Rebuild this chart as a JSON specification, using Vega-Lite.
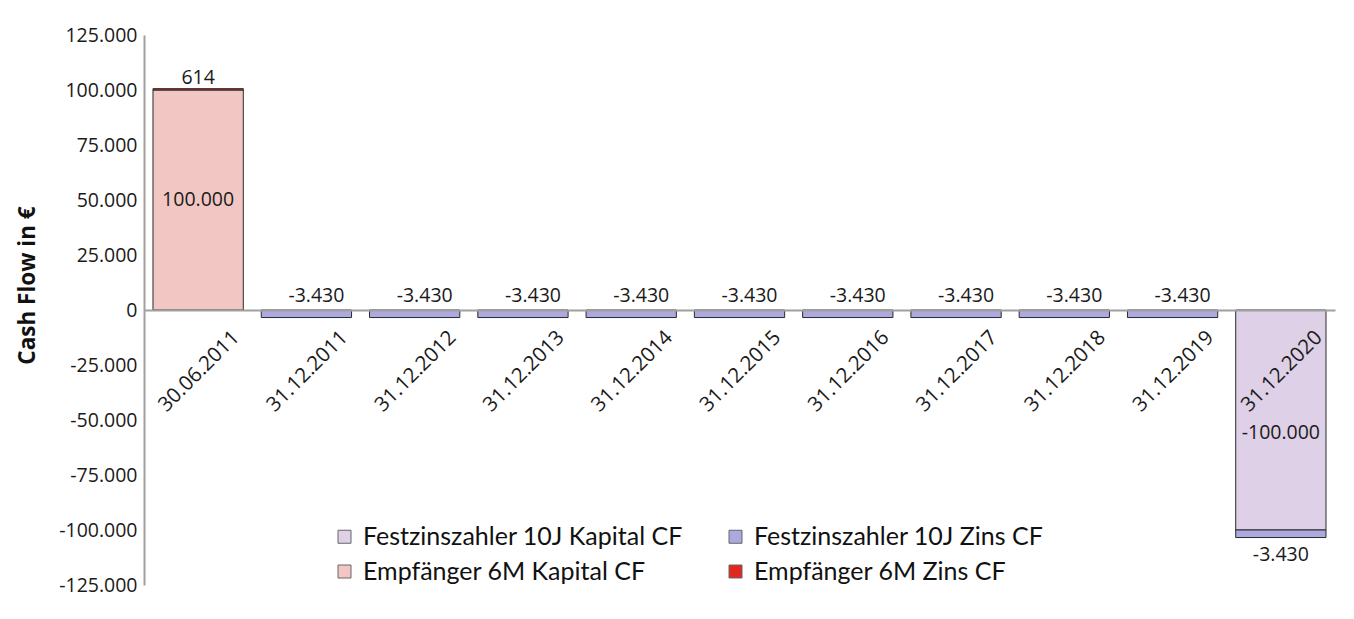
{
  "$schema": "https://vega.github.io/schema/vega-lite/v6.json",
  "width": 1191,
  "height": 550,
  "autosize": "none",
  "padding": {"left": 144, "top": 35, "right": 19, "bottom": 34},
  "background": "white",
  "config": {
    "locale": {"number": {"decimal": ",", "thousands": ".", "grouping": [3], "currency": ["", " €"], "minus": "-"}},
    "view": {"stroke": null},
    "font": "Open Sans"
  },
  "data": {
    "values": [
      {"date": "30.06.2011", "series": "Empfänger 6M Kapital CF", "value": 100000},
      {"date": "30.06.2011", "series": "Empfänger 6M Zins CF", "value": 614},
      {"date": "31.12.2011", "series": "Festzinszahler 10J Zins CF", "value": -3430},
      {"date": "31.12.2012", "series": "Festzinszahler 10J Zins CF", "value": -3430},
      {"date": "31.12.2013", "series": "Festzinszahler 10J Zins CF", "value": -3430},
      {"date": "31.12.2014", "series": "Festzinszahler 10J Zins CF", "value": -3430},
      {"date": "31.12.2015", "series": "Festzinszahler 10J Zins CF", "value": -3430},
      {"date": "31.12.2016", "series": "Festzinszahler 10J Zins CF", "value": -3430},
      {"date": "31.12.2017", "series": "Festzinszahler 10J Zins CF", "value": -3430},
      {"date": "31.12.2018", "series": "Festzinszahler 10J Zins CF", "value": -3430},
      {"date": "31.12.2019", "series": "Festzinszahler 10J Zins CF", "value": -3430},
      {"date": "31.12.2020", "series": "Festzinszahler 10J Kapital CF", "value": -100000},
      {"date": "31.12.2020", "series": "Festzinszahler 10J Zins CF", "value": -3430}
    ]
  },
  "transform": [
    {"stack": "value", "groupby": ["date"], "sort": [{"field": "series", "order": "ascending"}], "as": ["y0", "y1"]}
  ],
  "resolve": {"scale": {"y": "independent"}},
  "layer": [
    {
      "mark": {"type": "bar", "stroke": "#2a2a2a", "strokeWidth": 1},
      "encoding": {
        "x": {
          "field": "date", "type": "nominal", "sort": null,
          "scale": {"paddingInner": 0.166, "paddingOuter": 0.083},
          "axis": {
            "title": null, "orient": "bottom", "offset": -275, "labelAngle": -45,
            "ticks": false, "domainColor": "#a0a0a0", "domainWidth": 2,
            "labelFontSize": 20.5, "labelColor": "#1a1a1a", "labelPadding": 17, "labelOffset": 31,
            "zindex": 1
          }
        },
        "y": {
          "field": "y0", "type": "quantitative",
          "scale": {"domain": [-125000, 125000], "nice": false, "zero": false},
          "axis": {
            "values": [-125000, -100000, -75000, -50000, -25000, 0, 25000, 50000, 75000, 100000, 125000],
            "format": ",d", "grid": false, "ticks": false,
            "domainColor": "#a0a0a0", "domainWidth": 2,
            "labelFontSize": 19.5, "labelColor": "#1a1a1a", "labelPadding": 7,
            "title": "Cash Flow in €", "titleFontSize": 22.5, "titleFontWeight": "bold", "titleColor": "#111",
            "titleX": -117, "titleY": 250, "titleAngle": -90, "titleAlign": "center", "titleBaseline": "middle"
          }
        },
        "y2": {"field": "y1"},
        "color": {
          "field": "series", "type": "nominal",
          "scale": {
            "domain": ["Festzinszahler 10J Kapital CF", "Festzinszahler 10J Zins CF", "Empfänger 6M Kapital CF", "Empfänger 6M Zins CF"],
            "range": ["#ddd0e7", "#aca8e0", "#f2c7c3", "#e2281e"]
          },
          "legend": {
            "orient": "none", "legendX": 188, "legendY": 489, "columns": 2, "direction": "horizontal", "title": null,
            "symbolType": "square", "symbolSize": 169, "symbolStrokeColor": "#666", "symbolStrokeWidth": 1,
            "labelFont": "Lato", "labelFontSize": 25, "labelColor": "#111", "labelOffset": 6, "labelLimit": 0,
            "columnPadding": 40, "rowPadding": 9
          }
        }
      }
    },
    {
      "transform": [{"filter": "indexof(datum.series, 'Kapital') >= 0 && datum.value > 0"}],
      "mark": {"type": "text", "fontSize": 19.5, "color": "#1a1a1a"},
      "encoding": {
        "x": {"field": "date", "type": "nominal", "sort": null},
        "y": {"field": "value", "type": "quantitative", "scale": {"domain": [-250000, 250000], "nice": false, "zero": false}, "axis": null},
        "text": {"field": "value", "type": "quantitative", "format": ",d"}
      }
    },
    {
      "transform": [{"filter": "indexof(datum.series, 'Kapital') >= 0 && datum.value < 0"}],
      "mark": {"type": "text", "fontSize": 19.5, "color": "#1a1a1a", "dy": 13},
      "encoding": {
        "x": {"field": "date", "type": "nominal", "sort": null},
        "y": {"field": "value", "type": "quantitative", "scale": {"domain": [-250000, 250000], "nice": false, "zero": false}, "axis": null},
        "text": {"field": "value", "type": "quantitative", "format": ",d"}
      }
    },
    {
      "transform": [{"filter": "indexof(datum.series, 'Zins') >= 0 && datum.value < 0 && datum.y0 == 0"}],
      "mark": {"type": "text", "fontSize": 19.5, "color": "#1a1a1a", "dy": -14, "dx": 10},
      "encoding": {
        "x": {"field": "date", "type": "nominal", "sort": null},
        "y": {"field": "y0", "type": "quantitative", "scale": {"domain": [-125000, 125000], "nice": false, "zero": false}, "axis": null},
        "text": {"field": "value", "type": "quantitative", "format": ",d"}
      }
    },
    {
      "transform": [{"filter": "indexof(datum.series, 'Zins') >= 0 && datum.value > 0"}],
      "mark": {"type": "text", "fontSize": 19.5, "color": "#1a1a1a", "dy": -11},
      "encoding": {
        "x": {"field": "date", "type": "nominal", "sort": null},
        "y": {"field": "y1", "type": "quantitative", "scale": {"domain": [-125000, 125000], "nice": false, "zero": false}, "axis": null},
        "text": {"field": "value", "type": "quantitative", "format": ",d"}
      }
    },
    {
      "transform": [{"filter": "indexof(datum.series, 'Zins') >= 0 && datum.value < 0 && datum.y0 < 0"}],
      "mark": {"type": "text", "fontSize": 19.5, "color": "#1a1a1a", "dy": 17},
      "encoding": {
        "x": {"field": "date", "type": "nominal", "sort": null},
        "y": {"field": "y1", "type": "quantitative", "scale": {"domain": [-125000, 125000], "nice": false, "zero": false}, "axis": null},
        "text": {"field": "value", "type": "quantitative", "format": ",d"}
      }
    }
  ]
}
